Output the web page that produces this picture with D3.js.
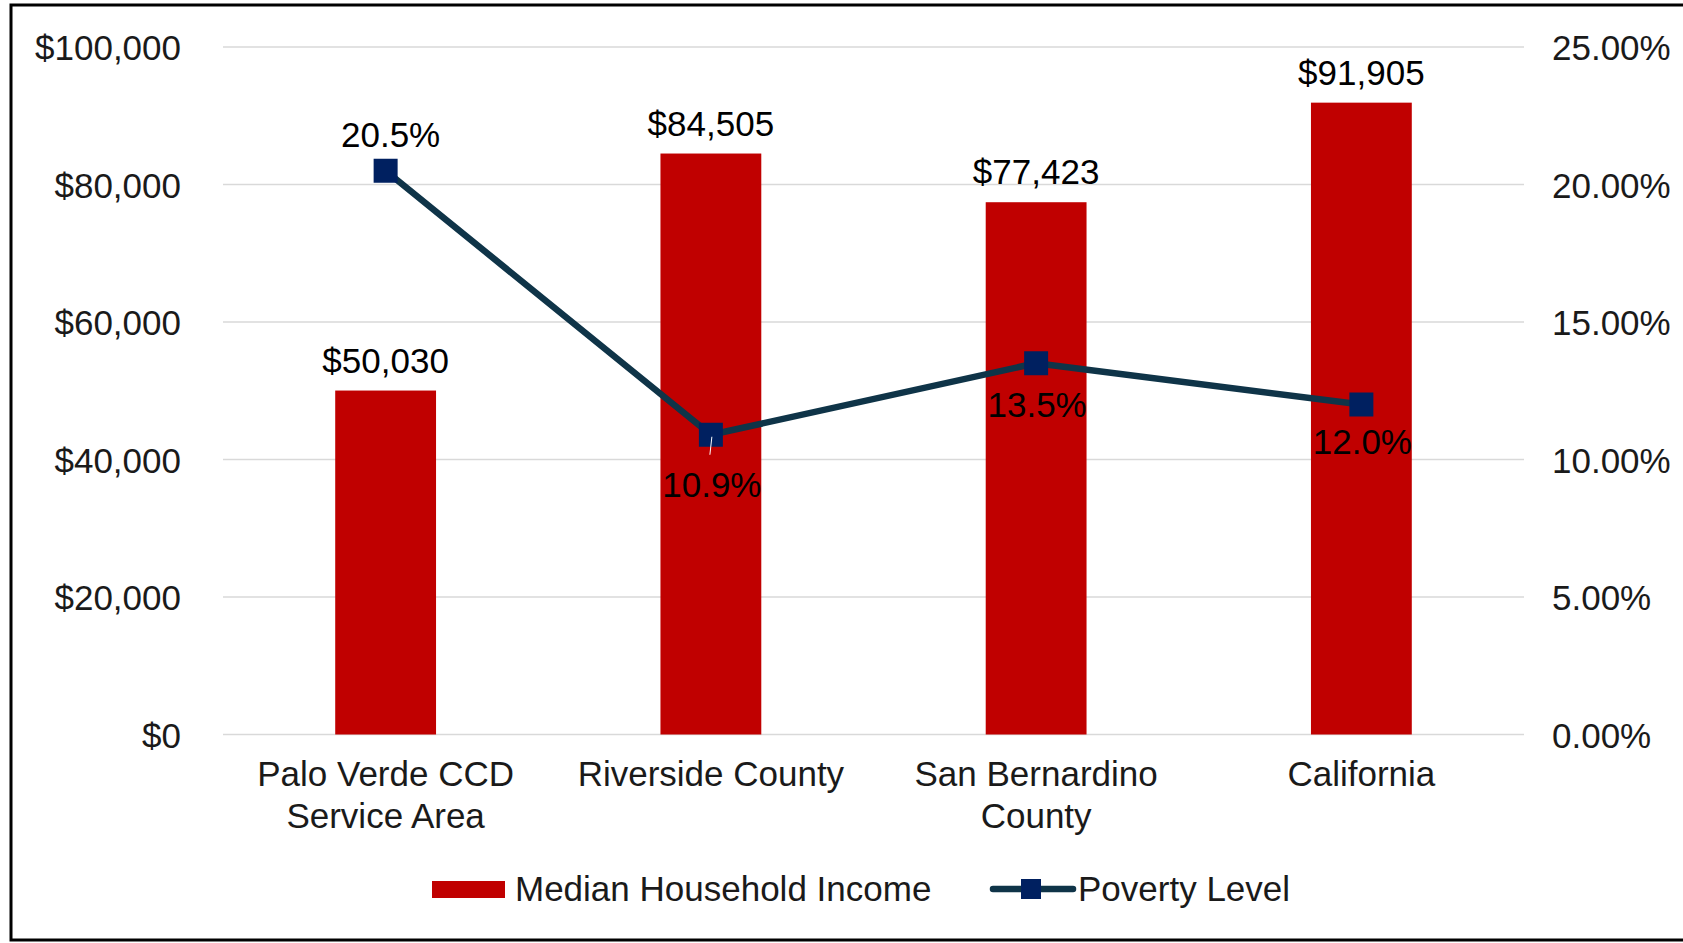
<!DOCTYPE html>
<html>
<head>
<meta charset="utf-8">
<script src="https://cdn.jsdelivr.net/npm/d3@7"></script>
<style>
  body { margin: 0; background: #fff; }
  text { font-family: "Liberation Sans", Arial, sans-serif; }
</style>
</head>
<body>
<div id="chart"></div>
<script>
// data
var categories = ["Palo Verde CCD Service Area", "Riverside County", "San Bernardino County", "California"];
var categoryLines = [["Palo Verde CCD", "Service Area"], ["Riverside County"], ["San Bernardino", "County"], ["California"]];
var incomeValues = [50030, 84505, 77423, 91905];
var povertyValues = [20.5, 10.9, 13.5, 12.0];
var incomeTicks = [0, 20000, 40000, 60000, 80000, 100000];
var povertyTicks = [0, 5, 10, 15, 20, 25];

// where the poverty labels sit, relative to the marker (baseline offset)
var povertyLabelDy = [-24, 62, 54, 49];

var W = 1683, H = 943;
var svg = d3.select("#chart").append("svg").attr("width", W).attr("height", H);

var plotLeft = 223, plotRight = 1524, plotTop = 47, plotBottom = 734.5;
var fontSize = 35;

svg.append("rect")
   .attr("x", 11).attr("y", 5)
   .attr("width", 1700).attr("height", 935)
   .attr("fill", "none")
   .attr("stroke", "#000")
   .attr("stroke-width", 3);

var xScale = d3.scaleBand().domain(categories).range([plotLeft, plotRight]).padding(0);
var yScale = d3.scaleLinear().domain([0, 100000]).range([plotBottom, plotTop]);
var y2Scale = d3.scaleLinear().domain([0, 25]).range([plotBottom, plotTop]);

// gridlines
svg.append("g")
   .selectAll("line")
   .data(incomeTicks)
   .enter().append("line")
   .attr("x1", plotLeft).attr("x2", plotRight)
   .attr("y1", function(d) { return yScale(d); })
   .attr("y2", function(d) { return yScale(d); })
   .attr("stroke", "#d9d9d9")
   .attr("stroke-width", 1.5);

// left axis
var gLeft = svg.append("g")
   .attr("transform", "translate(" + 181 + ",0)")
   .call(d3.axisLeft(yScale).tickValues(incomeTicks).tickSize(0).tickPadding(0)
      .tickFormat(function(d) { return "$" + d3.format(",")(d); }));
gLeft.select(".domain").remove();
gLeft.selectAll("text")
   .attr("font-size", fontSize + "px")
   .attr("font-family", "Liberation Sans, Arial, sans-serif")
   .attr("fill", "#1a1a1a")
   .attr("dy", "0.36em");

// right axis
var gRight = svg.append("g")
   .attr("transform", "translate(" + 1552 + ",0)")
   .call(d3.axisRight(y2Scale).tickValues(povertyTicks).tickSize(0).tickPadding(0)
      .tickFormat(function(d) { return d3.format(".2f")(d) + "%"; }));
gRight.select(".domain").remove();
gRight.selectAll("text")
   .attr("font-size", fontSize + "px")
   .attr("font-family", "Liberation Sans, Arial, sans-serif")
   .attr("fill", "#1a1a1a")
   .attr("dy", "0.36em");

// bars
var barW = xScale.bandwidth() * 0.31;
var cx = function(i) { return xScale(categories[i]) + xScale.bandwidth() / 2; };

svg.selectAll(".bar")
   .data(incomeValues)
   .enter().append("rect")
   .attr("class", "bar")
   .attr("x", function(d, i) { return cx(i) - barW / 2; })
   .attr("y", function(d) { return yScale(d); })
   .attr("width", barW)
   .attr("height", function(d) { return plotBottom - yScale(d); })
   .attr("fill", "#c00000");

svg.selectAll(".barLabel")
   .data(incomeValues)
   .enter().append("text")
   .attr("class", "barLabel")
   .attr("x", function(d, i) { return cx(i); })
   .attr("y", function(d) { return yScale(d) - 18; })
   .attr("text-anchor", "middle")
   .attr("font-size", fontSize + "px")
   .attr("fill", "#000")
   .text(function(d) { return "$" + d3.format(",")(d); });

// category labels
svg.selectAll(".catLabel")
   .data(categoryLines)
   .enter().append("text")
   .attr("class", "catLabel")
   .attr("text-anchor", "middle")
   .attr("font-size", fontSize + "px")
   .attr("fill", "#1a1a1a")
   .each(function(lines, i) {
      var t = d3.select(this);
      lines.forEach(function(l, k) {
         t.append("tspan").attr("x", cx(i)).attr("y", 786 + k * 42).text(l);
      });
   });

// poverty line
var line = d3.line()
   .x(function(d, i) { return cx(i); })
   .y(function(d) { return y2Scale(d); });

svg.append("path")
   .datum(povertyValues)
   .attr("d", line)
   .attr("fill", "none")
   .attr("stroke", "#0f3448")
   .attr("stroke-width", 6.5)
   .attr("stroke-linejoin", "round");

svg.selectAll(".marker")
   .data(povertyValues)
   .enter().append("rect")
   .attr("class", "marker")
   .attr("x", function(d, i) { return cx(i) - 12; })
   .attr("y", function(d) { return y2Scale(d) - 12; })
   .attr("width", 24).attr("height", 24)
   .attr("fill", "#002060");

// thin leader line left by the moved 10.9% label
svg.append("line")
   .attr("x1", cx(1) + 1).attr("y1", y2Scale(povertyValues[1]) + 2)
   .attr("x2", cx(1) - 1).attr("y2", y2Scale(povertyValues[1]) + 20)
   .attr("stroke", "#fff").attr("stroke-width", 1);

svg.selectAll(".povLabel")
   .data(povertyValues)
   .enter().append("text")
   .attr("class", "povLabel")
   .attr("x", function(d, i) { return cx(i) + (i === 0 ? 5 : 1); })
   .attr("y", function(d, i) { return y2Scale(d) + povertyLabelDy[i]; })
   .attr("text-anchor", "middle")
   .attr("font-size", fontSize + "px")
   .attr("fill", "#000")
   .text(function(d) { return d3.format(".1f")(d) + "%"; });

// legend
var lg = svg.append("g");
lg.append("rect")
  .attr("x", 432).attr("y", 881).attr("width", 73).attr("height", 17)
  .attr("fill", "#c00000");
lg.append("text")
  .attr("x", 515).attr("y", 901)
  .attr("font-size", fontSize + "px").attr("fill", "#1a1a1a")
  .text("Median Household Income");
lg.append("line")
  .attr("x1", 993).attr("x2", 1073).attr("y1", 889).attr("y2", 889)
  .attr("stroke", "#0f3448").attr("stroke-width", 6.5).attr("stroke-linecap", "round");
lg.append("rect")
  .attr("x", 1031 - 10).attr("y", 889 - 10).attr("width", 20).attr("height", 20)
  .attr("fill", "#002060");
lg.append("text")
  .attr("x", 1078).attr("y", 901)
  .attr("font-size", fontSize + "px").attr("fill", "#1a1a1a")
  .text("Poverty Level");
</script>
</body>
</html>
